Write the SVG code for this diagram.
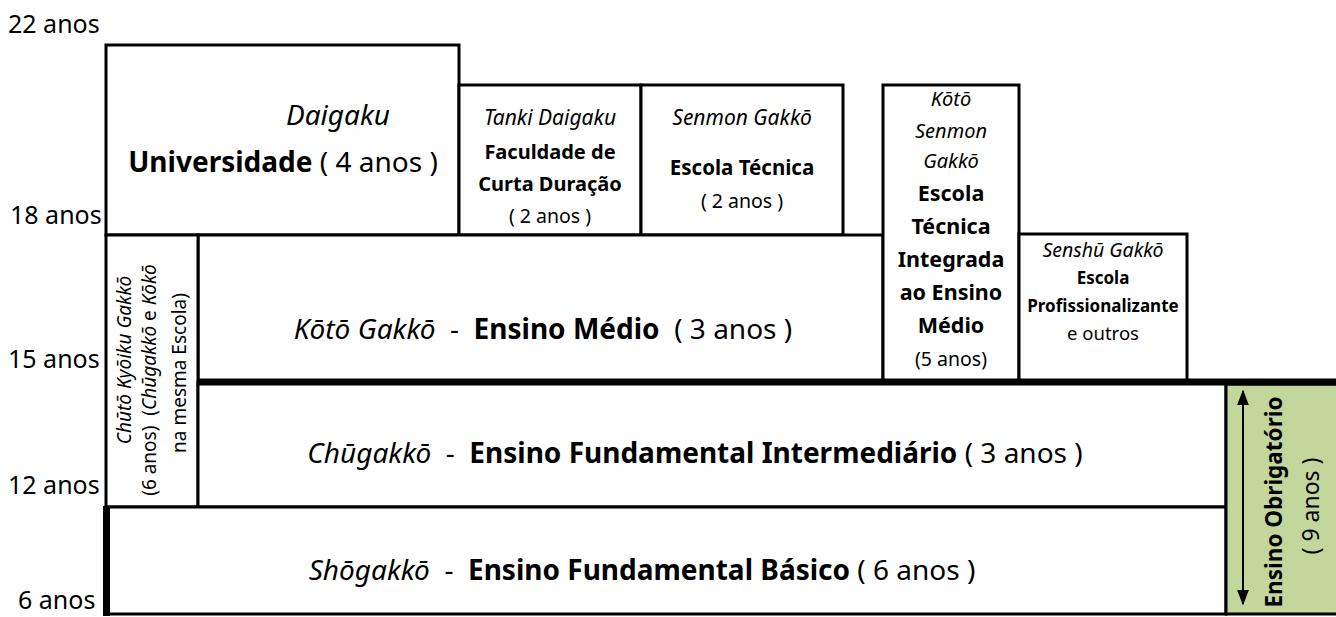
<svg xmlns="http://www.w3.org/2000/svg" width="1336" height="617" viewBox="0 0 1336 617">
<style>
text{font-family:"Noto Sans","Open Sans","DejaVu Sans",sans-serif;fill:#000;white-space:pre}
.box{fill:#fff;stroke:#000;stroke-width:3}
.i{font-style:italic}
.b{font-weight:bold}
.age{font-size:25px}
.mid{text-anchor:middle}
.row{font-size:28px}
</style>
<defs>
<marker id="ah" viewBox="0 0 10 10" refX="9" refY="5" markerWidth="16" markerHeight="12" markerUnits="userSpaceOnUse" orient="auto-start-reverse" preserveAspectRatio="none">
<path d="M0,0 L10,5 L0,10 z" fill="#000"/>
</marker>
</defs>
<g id="ages">
<text class="age" x="8" y="33">22 anos</text>
<text class="age" x="10" y="224">18 anos</text>
<text class="age" x="8" y="368">15 anos</text>
<text class="age" x="8" y="494">12 anos</text>
<text class="age" x="18" y="609">6 anos</text>
</g>
<g id="daigaku">
<rect class="box" x="106" y="45" width="353" height="190"/>
<text class="mid i row" x="338" y="125">Daigaku</text>
<text class="mid row" x="283" y="172" xml:space="preserve"><tspan class="b">Universidade</tspan> ( 4 anos )</text>
</g>
<g id="tanki">
<rect class="box" x="459" y="85" width="182" height="150"/>
<text class="mid i" x="550" y="125" font-size="21">Tanki Daigaku</text>
<text class="mid b" x="550" y="159" font-size="20">Faculdade de</text>
<text class="mid b" x="550" y="191" font-size="20">Curta Duração</text>
<text class="mid" x="550" y="223" font-size="19.5">( 2 anos )</text>
</g>
<g id="senmon">
<rect class="box" x="641" y="85" width="202" height="150"/>
<text class="mid i" x="742" y="125" font-size="21">Senmon Gakkō</text>
<text class="mid b" x="742" y="175" font-size="20.5">Escola Técnica</text>
<text class="mid" x="742" y="208" font-size="19.5">( 2 anos )</text>
</g>
<g id="koto-gakko">
<rect class="box" x="198" y="235" width="685" height="147"/>
<text class="mid row" x="543" y="339" xml:space="preserve"><tspan class="i">Kōtō Gakkō</tspan>  -  <tspan class="b">Ensino Médio</tspan>  ( 3 anos )</text>
</g>
<g id="koto-senmon">
<rect class="box" x="883" y="85" width="136" height="297"/>
<g class="mid">
<text class="i" x="951" y="106" font-size="20">Kōtō</text>
<text class="i" x="951" y="138" font-size="20">Senmon</text>
<text class="i" x="951" y="168" font-size="20">Gakkō</text>
<text class="b" x="951" y="201" font-size="21.5">Escola</text>
<text class="b" x="951" y="234" font-size="21.5">Técnica</text>
<text class="b" x="951" y="267" font-size="21.5">Integrada</text>
<text class="b" x="951" y="300" font-size="21.5">ao Ensino</text>
<text class="b" x="951" y="333" font-size="21.5">Médio</text>
<text x="951" y="366" font-size="19.5">(5 anos)</text>
</g>
</g>
<g id="senshu">
<rect class="box" x="1019" y="234" width="168" height="148"/>
<text class="mid i" x="1103" y="257" font-size="19.5">Senshū Gakkō</text>
<text class="mid b" x="1103" y="284" font-size="17">Escola</text>
<text class="mid b" x="1103" y="312" font-size="17">Profissionalizante</text>
<text class="mid" x="1103" y="340" font-size="18.5">e outros</text>
</g>
<g id="chuto">
<rect class="box" x="106" y="235" width="92" height="272"/>
<text class="mid i" transform="translate(131,360) rotate(-90)" font-size="19">Chūtō Kyōiku Gakkō</text>
<text class="mid" transform="translate(156,380) rotate(-90)" font-size="19" xml:space="preserve">(6 anos)  (<tspan class="i">Chūgakkō</tspan> e <tspan class="i">Kōkō</tspan></text>
<text class="mid" transform="translate(186,373) rotate(-90)" font-size="19">na mesma Escola)</text>
</g>
<g id="chugakko">
<rect class="box" x="198" y="382" width="1028" height="125"/>
<text class="mid row" x="695" y="463" xml:space="preserve"><tspan class="i">Chūgakkō</tspan>  -  <tspan class="b">Ensino Fundamental Intermediário</tspan> ( 3 anos )</text>
</g>
<g id="shogakko">
<rect class="box" x="106" y="507" width="1120" height="107"/>
<rect x="103" y="506" width="7" height="110" fill="#000"/>
<text class="mid row" x="642" y="580" xml:space="preserve"><tspan class="i">Shōgakkō</tspan>  -  <tspan class="b">Ensino Fundamental Básico</tspan> ( 6 anos )</text>
</g>
<g id="obrigatorio">
<rect x="1226" y="384" width="112" height="230" fill="#c3d69b" stroke="#000" stroke-width="3"/>
<text class="mid b" transform="translate(1282,502) rotate(-90)" font-size="22.5">Ensino Obrigatório</text>
<text class="mid" transform="translate(1319,506) rotate(-90)" font-size="23">( 9 anos )</text>
</g>
<g id="connectors">
<line x1="197" y1="382" x2="1336" y2="382" stroke="#000" stroke-width="7"/>
<line x1="1243" y1="391" x2="1243" y2="604" stroke="#000" stroke-width="2" marker-start="url(#ah)" marker-end="url(#ah)"/>
</g>
</svg>
